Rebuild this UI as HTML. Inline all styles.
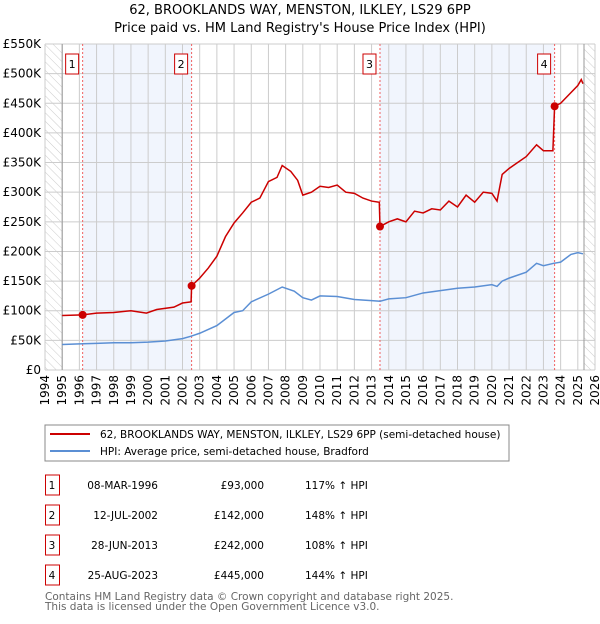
<!DOCTYPE html>
<html><head><meta charset="utf-8"><style>
body{margin:0;background:#fff;font-family:"DejaVu Sans","Liberation Sans",sans-serif;}
svg text{font-family:"DejaVu Sans","Liberation Sans",sans-serif;}
</style></head><body>
<svg id="chart" width="600" height="620" xmlns="http://www.w3.org/2000/svg">
<defs><pattern id="hatch" width="6" height="6" patternUnits="userSpaceOnUse" patternTransform="rotate(-45)"><line x1="0" y1="0" x2="0" y2="6" stroke="#ccc" stroke-width="1"/></pattern></defs>
<text x="300" y="14" text-anchor="middle" font-size="13">62, BROOKLANDS WAY, MENSTON, ILKLEY, LS29 6PP</text>
<text x="300" y="32" text-anchor="middle" font-size="13">Price paid vs. HM Land Registry's House Price Index (HPI)</text>
<g id="plot"></g>
<rect x="45" y="425" width="464" height="36" fill="#fff" stroke="#888"/>
<line x1="50" y1="434" x2="90" y2="434" stroke="#cc0000" stroke-width="2"/>
<text x="100" y="438" font-size="10.5">62, BROOKLANDS WAY, MENSTON, ILKLEY, LS29 6PP (semi-detached house)</text>
<line x1="50" y1="451" x2="90" y2="451" stroke="#5b8fd4" stroke-width="2"/>
<text x="100" y="455" font-size="10.5">HPI: Average price, semi-detached house, Bradford</text>
<g id="table" font-size="10.5"></g>
<text x="45" y="600" font-size="10.5" fill="#666">Contains HM Land Registry data © Crown copyright and database right 2025.</text>
<text x="45" y="610" font-size="10.5" fill="#666">This data is licensed under the Open Government Licence v3.0.</text>
</svg>
<script>
const hpiYears=[1995,1996,1997,1998,1999,2000,2001,2002,2002.5,2003,2004,2005,2005.5,2006,2007,2007.8,2008.5,2009,2009.5,2010,2011,2012,2013,2013.5,2014,2015,2016,2017,2018,2019,2020,2020.3,2020.6,2021,2022,2022.6,2023,2023.6,2024,2024.6,2025,2025.3];
const hpiValues=[43,44,45,46,46,47,49,53,57,62,75,97,100,115,128,140,133,122,118,125,124,119,117,116,120,122,130,134,138,140,144,141,150,155,165,180,176,180,182,195,198,196];
const redYears=[1995,1996.19,1997,1998,1999,1999.9,2000.5,2001.5,2002,2002.5,2002.53,2003,2003.5,2004,2004.5,2005,2005.5,2006,2006.5,2007,2007.5,2007.8,2008.3,2008.7,2009,2009.5,2010,2010.5,2011,2011.5,2012,2012.5,2013,2013.45,2013.49,2014,2014.5,2015,2015.5,2016,2016.5,2017,2017.5,2018,2018.5,2019,2019.5,2020,2020.3,2020.6,2021,2021.5,2022,2022.6,2023,2023.55,2023.65,2024,2024.5,2025,2025.2,2025.3];
const redValues=[92,93,96,97,100,96,102,106,113,115,142,155,172,192,225,248,265,283,290,318,325,345,335,320,295,300,310,308,312,300,298,290,285,283,242,250,255,250,268,265,272,270,285,275,295,283,300,298,285,330,340,350,360,380,370,370,445,450,465,480,490,483];
const saleYears=[1996.19,2002.53,2013.49,2023.65];
const saleValues=[93,142,242,445];
const saleLabels=["1","2","3","4"];
const saleDates=["08-MAR-1996","12-JUL-2002","28-JUN-2013","25-AUG-2023"];
const salePrices=["£93,000","£142,000","£242,000","£445,000"];
const salePct=["117% ↑ HPI","148% ↑ HPI","108% ↑ HPI","144% ↑ HPI"];
const yTicks=[0,50,100,150,200,250,300,350,400,450,500,550];
const yTickLabels=["£0","£50K","£100K","£150K","£200K","£250K","£300K","£350K","£400K","£450K","£500K","£550K"];
const NS="http://www.w3.org/2000/svg";
const L=45,R=595,T=44,B=370,Y0=1994,Y1=2026;
const xs=y=>L+(y-Y0)/(Y1-Y0)*(R-L);
const ys=v=>B-v/550*(B-T);
const plot=document.getElementById('plot');
function mk(tag,attrs,parent){const e=document.createElementNS(NS,tag);for(const k in attrs)e.setAttribute(k,attrs[k]);(parent||plot).appendChild(e);return e;}
let e;
e=mk('rect',{x:L,y:T,width:R-L,height:B-T,fill:'#fff'});


for(let i=0;i<4;i+=2){e=mk('rect',{x:xs(saleYears[i]),y:T,width:xs(saleYears[i+1])-xs(saleYears[i]),height:B-T,fill:'#eef3fc',opacity:0.8});

}
e=mk('rect',{x:L,y:T,width:xs(1995)-L,height:B-T,fill:'url(#hatch)'});


e=mk('rect',{x:xs(2025.36),y:T,width:R-xs(2025.36),height:B-T,fill:'url(#hatch)'});


for(let y=Y0;y<=Y1;y++){e=mk('line',{x1:xs(y),x2:xs(y),y1:T,y2:B,stroke:'#ccc','stroke-width':1});


e=mk('text',{x:0,y:0,'font-size':12,'text-anchor':'end',transform:`translate(${xs(y)+4},${B+5}) rotate(-90)`});
e.textContent=y;

}
yTicks.forEach((v,i)=>{e=mk('line',{x1:L,x2:R,y1:ys(v),y2:ys(v),stroke:'#ccc','stroke-width':1});


e=mk('text',{x:L-4,y:ys(v)+4,'font-size':12,'text-anchor':'end'});
e.textContent=yTickLabels[i];

});
e=mk('line',{x1:xs(1995),x2:xs(1995),y1:T,y2:B,stroke:'#999'});


e=mk('line',{x1:xs(2025.36),x2:xs(2025.36),y1:T,y2:B,stroke:'#999'});


saleYears.forEach((y,i)=>{e=mk('line',{x1:xs(y),x2:xs(y),y1:T,y2:B,stroke:'#f06060','stroke-dasharray':'2,2'});


e=mk('rect',{x:xs(y)-17,y:54,width:13,height:20,fill:'#fff',stroke:'#cc0000'});


e=mk('text',{x:xs(y)-10.5,y:68,'font-size':11,'text-anchor':'middle'});
e.textContent=saleLabels[i];

});
e=mk('polyline',{points:hpiYears.map((y,i)=>xs(y)+','+ys(hpiValues[i])).join(' '),fill:'none',stroke:'#5b8fd4','stroke-width':1.5});


e=mk('polyline',{points:redYears.map((y,i)=>xs(y)+','+ys(redValues[i])).join(' '),fill:'none',stroke:'#cc0000','stroke-width':1.5});


saleYears.forEach((y,i)=>{e=mk('circle',{cx:xs(y),cy:ys(saleValues[i]),r:4,fill:'#cc0000'});

});
const tb=document.getElementById('table');
const rowY=[485,515,545,575];
rowY.forEach((ry,i)=>{e=mk('rect',{x:45.5,y:ry-10,width:14,height:20,fill:'#fff',stroke:'#cc0000'},tb);


e=mk('text',{x:52,y:ry+4,'text-anchor':'middle'},tb);e.textContent=saleLabels[i];


e=mk('text',{x:158,y:ry+4,'text-anchor':'end'},tb);e.textContent=saleDates[i];


e=mk('text',{x:264,y:ry+4,'text-anchor':'end'},tb);e.textContent=salePrices[i];


e=mk('text',{x:305,y:ry+4},tb);e.textContent=salePct[i];

});
</script>
</body></html>
